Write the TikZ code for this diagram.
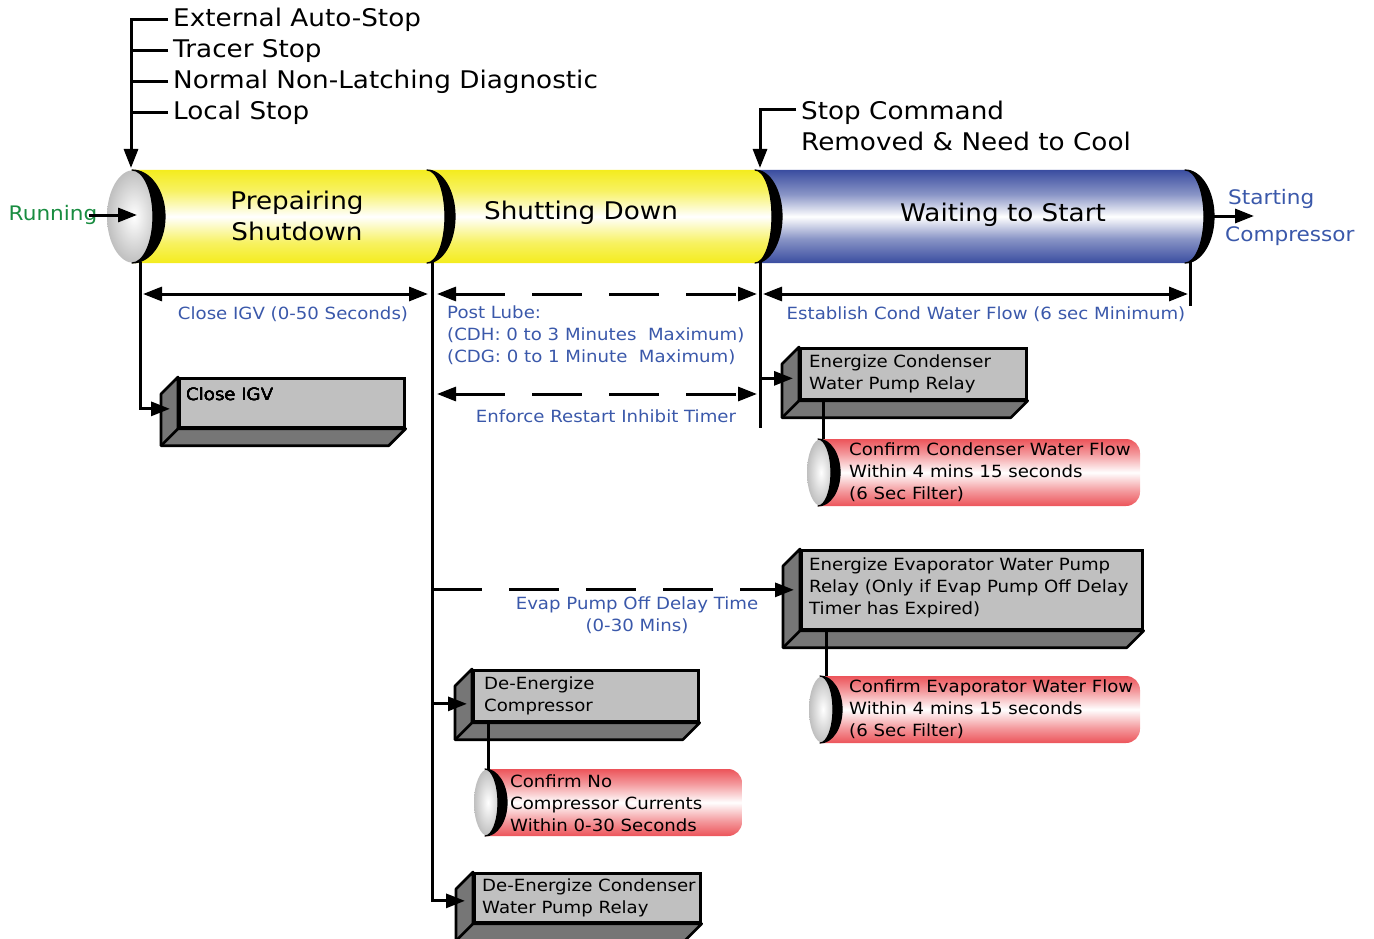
\documentclass[tikz,border=0pt]{standalone}
\usepackage{fontspec}
\setmainfont{DejaVu Sans}[FakeStretch=1.08]
\usetikzlibrary{positioning,arrows.meta,calc}

\definecolor{tubeylw}{RGB}{244,236,30}
\definecolor{tubeblu}{RGB}{58,77,160}
\definecolor{tubered}{RGB}{236,84,90}
\definecolor{lblblue}{RGB}{58,88,170}
\definecolor{rungreen}{RGB}{24,140,64}
\definecolor{facegray}{RGB}{192,192,192}
\definecolor{sidegray}{RGB}{118,118,118}

\pgfdeclareverticalshading{ylwshade}{100bp}{color(0bp)=(tubeylw); color(25bp)=(tubeylw); color(36bp)=(tubeylw!70!white); color(50bp)=(white); color(64bp)=(tubeylw!70!white); color(75bp)=(tubeylw); color(100bp)=(tubeylw)}
\pgfdeclareverticalshading{blushade}{100bp}{color(0bp)=(tubeblu); color(25bp)=(tubeblu); color(38bp)=(tubeblu!60!white); color(50bp)=(white); color(62bp)=(tubeblu!60!white); color(75bp)=(tubeblu); color(100bp)=(tubeblu)}
\pgfdeclareverticalshading{redshade}{100bp}{color(0bp)=(tubered); color(25bp)=(tubered); color(36bp)=(tubered!60!white); color(50bp)=(white); color(64bp)=(tubered!60!white); color(75bp)=(tubered); color(100bp)=(tubered)}

\newcommand\bigfont{\fontsize{24.3}{31}\selectfont}
\newcommand\midfont{\fontsize{20}{37}\selectfont}
\newcommand\smallfont{\fontsize{16.8}{22}\selectfont}

% black rim of a tube end: x, y top, y bottom, outer and inner x radius
\newcommand\rimarc[5]{%
  \filldraw[line width=1.2pt,line join=round] (#1,#2) arc[start angle=-90,end angle=90,x radius=#4,y radius={(#3-#2)/2}]
    arc[start angle=90,end angle=-90,x radius=#5,y radius={(#3-#2)/2}] -- cycle;}
% red check tube: x, y top, y bottom, right end
\newcommand\redtube[4]{%
  \shade[shading=redshade] (#1,#2) -- ({#4-14},#2) arc[start angle=-90,end angle=0,radius=14] -- (#4,{#3-14})
    arc[start angle=0,end angle=90,radius=14] -- (#1,#3) -- cycle;
  \shade[inner color=white,outer color=black!25] ({#1+3},{(#2+#3)/2}) ellipse[x radius=14,y radius={(#3-#2)/2}];
  \rimarc{#1}{#2}{#3}{22}{13}}
% side and bottom faces of a box node
\newcommand\boxsides[1]{%
  \filldraw[fill=sidegray,line width=2.7pt,line join=round] (#1.north west) -- ++(-17,17) -- ([shift={(-17,17)}]#1.south west)
    -- ([shift={(-17,17)}]#1.south east) -- (#1.south east) -- (#1.south west) -- cycle;
  \draw[line width=2.7pt] (#1.south west) -- ++(-17,17);}

\begin{document}
\begin{tikzpicture}[x=1pt,y=-1pt,
  arr/.style={line width=3pt,-{Triangle[length=19pt,width=14pt]}},
  dbl/.style={line width=3pt,{Triangle[length=19pt,width=14pt]}-{Triangle[length=19pt,width=14pt]}},
  dsh/.style={dash pattern=on 50pt off 27pt},
  wire/.style={line width=3pt},
  lbl/.style={text=lblblue,font=\smallfont,inner sep=0pt,align=center},
  box3d/.style={draw,line width=2.7pt,fill=facegray,anchor=north west,inner sep=0pt},
  boxtext/.style={font=\smallfont,align=left,anchor=west,inner sep=0pt}]
\useasboundingbox (0,0) rectangle (1374,939);

% main tube: blue part first, yellow on top
\shade[shading=blushade] (755,170) -- (1185,170) arc[start angle=-90,end angle=90,x radius=29,y radius=46.5] -- (755,263) -- cycle;
\shade[shading=ylwshade] (132,170) -- (755,170) arc[start angle=-90,end angle=90,x radius=27,y radius=46.5] -- (132,263) -- cycle;
\shade[inner color=white,outer color=black!25] (134,216.5) ellipse[x radius=27,y radius=46.5];
\rimarc{132}{170}{263}{33}{21}
\rimarc{427}{170}{263}{28}{18}
\rimarc{755}{170}{263}{27}{17}
\rimarc{1185}{170}{263}{29}{19}

\node[font=\bigfont,align=center] (prep) at (297,216) {Prepairing\\Shutdown};
\node[font=\bigfont] (shut) at (581,213) {Shutting Down};
\node[font=\bigfont] (wait) at (1003,215) {Waiting to Start};

% stop sources
\foreach \nm/\yy/\txt in {ext/20/External Auto-Stop,trc/51/Tracer Stop,nnl/82/Normal Non-Latching Diagnostic,lcl/113/Local Stop}
  \node[font=\bigfont,anchor=west,inner xsep=5pt,inner ysep=0pt] (\nm) at (168,\yy) {\txt};
\coordinate (stopin) at (131,168);
\draw[arr] (ext.west) -| (stopin);
\foreach \nm in {trc,nnl,lcl} \draw[wire] (\nm.west) -- (\nm.west -| stopin);

\node[font=\midfont,text=rungreen,inner sep=0pt] (run) at (53,215) {Running};
\coordinate (capin) at (137,216);
\draw[arr] ([xshift=-8pt]run.east) -- (run.east -| capin);

\node[font=\bigfont,align=left,anchor=west,inner xsep=5pt,inner ysep=0pt] (stopcmd) at (796,125.5) {Stop Command\\Removed \& Need to Cool};
\coordinate (scin) at (760,168);
\draw[arr] ([yshift=15.5pt]stopcmd.west) -| (scin);

\node[font=\midfont,text=lblblue,align=left,anchor=west,inner sep=0pt] (start) at (1225,217.5) {\hspace{3pt}Starting\\Compressor};
\coordinate (outcap) at (1213,216);
\coordinate (outtip) at (1254,216);
\draw[arr] (outcap) -- (outtip);

% action boxes
\node[box3d,minimum width=225pt,minimum height=49pt] (cigv) at (178,377) {};
\node[box3d,minimum width=226pt,minimum height=51pt] (econd) at (799,347) {};
\node[box3d,minimum width=341pt,minimum height=79pt] (eevap) at (800,549) {};
\node[box3d,minimum width=225pt,minimum height=51pt] (decomp) at (472,669) {};
\node[box3d,minimum width=226pt,minimum height=49pt] (decond) at (473,872) {};
\foreach \bx in {cigv,econd,eevap,decomp,decond} \boxsides{\bx}
\node[boxtext] (cigvtxt) at ([xshift=8pt,yshift=8.5pt]cigv.west) {Close IGV};
\node[boxtext] (econdtxt) at ([xshift=10pt]econd.west) {Energize Condenser\\Water Pump Relay};
\node[boxtext] (eevaptxt) at ([xshift=9pt,yshift=2pt]eevap.west) {Energize Evaporator Water Pump\\Relay (Only if Evap Pump Off Delay\\Timer has Expired)};
\node[boxtext] (decomptxt) at ([xshift=12pt]decomp.west) {De-Energize\\Compressor};
\node[boxtext] (decondtxt) at ([xshift=9pt]decond.west) {De-Energize Condenser\\Water Pump Relay};

% check tubes
\redtube{818}{439}{506}{1140}
\redtube{820}{676}{743}{1140}
\redtube{485}{769}{836}{742}
\node[boxtext] (cfcw) at (849,472.5) {Confirm Condenser Water Flow\\Within 4 mins 15 seconds\\(6 Sec Filter)};
\node[boxtext] (cfev) at (849,709.5) {Confirm Evaporator Water Flow\\Within 4 mins 15 seconds\\(6 Sec Filter)};
\node[boxtext] (cnoc) at (510,803) {Confirm No\\Compressor Currents\\Within 0-30 Seconds};
\coordinate (cfcwtop) at (823,439);
\coordinate (cfevtop) at (826,676);
\coordinate (cnoctop) at (488,769);
\draw[wire] (econd.south -| cfcwtop) -- (cfcwtop);
\draw[wire] (eevap.south -| cfevtop) -- (cfevtop);
\draw[wire] (decomp.south -| cnoctop) -- (cnoctop);

% timeline drops
\coordinate (v0) at (140,262);
\coordinate (v1) at (432,262);
\coordinate (v2) at (760,262);
\coordinate (v3) at (1190,262);
\coordinate (v2end) at (760,428);
\coordinate (v3end) at (1190,306);
\coordinate (decompin) at ([xshift=-5pt,yshift=-8pt]decomp.west);
\coordinate (evapin) at ([xshift=-6pt]eevap.west);
\coordinate (econdin) at ([xshift=-6pt,yshift=-4.5pt]econd.west);
\draw[arr] (v0) |- ([xshift=-8pt,yshift=-6pt]cigv.west);
\draw[arr] (v1) |- ([xshift=-8pt,yshift=-3pt]decond.west);
\draw[arr] (v1 |- decompin) -- (decompin);
\draw[arr,dsh] (v1 |- evapin) -- (evapin);
\draw[wire] (v2) -- (v2end);
\draw[arr] (v2 |- econdin) -- (econdin);
\draw[wire] (v3) -- (v3end);

% timers
\coordinate (igvL) at (143,294);
\coordinate (igvR) at (428,294);
\coordinate (lubeL) at (437,294);
\coordinate (lubeR) at (757,294);
\coordinate (rsiL) at (437,394);
\coordinate (rsiR) at (757,394);
\coordinate (cwfL) at (763,294);
\coordinate (cwfR) at (1188,294);
\draw[dbl] (igvL) -- (igvR);
\draw[dbl,dsh] (lubeL) -- (lubeR);
\draw[dbl,dsh] (rsiL) -- (rsiR);
\draw[dbl] (cwfL) -- (cwfR);
\node[lbl] (igvlbl) at (293,314) {Close IGV (0-50 Seconds)};
\node[lbl,align=left,anchor=west] (lubelbl) at (447,335) {Post Lube:\\(CDH: 0 to 3 Minutes~ Maximum)\\(CDG: 0 to 1 Minute~ Maximum)};
\node[lbl] (rsilbl) at (606,416) {Enforce Restart Inhibit Timer};
\node[lbl] (cwflbl) at (986,314) {Establish Cond Water Flow (6 sec Minimum)};
\node[lbl] (evaplbl) at (637,615.5) {Evap Pump Off Delay Time\\(0-30 Mins)};
\end{tikzpicture}
\end{document}
